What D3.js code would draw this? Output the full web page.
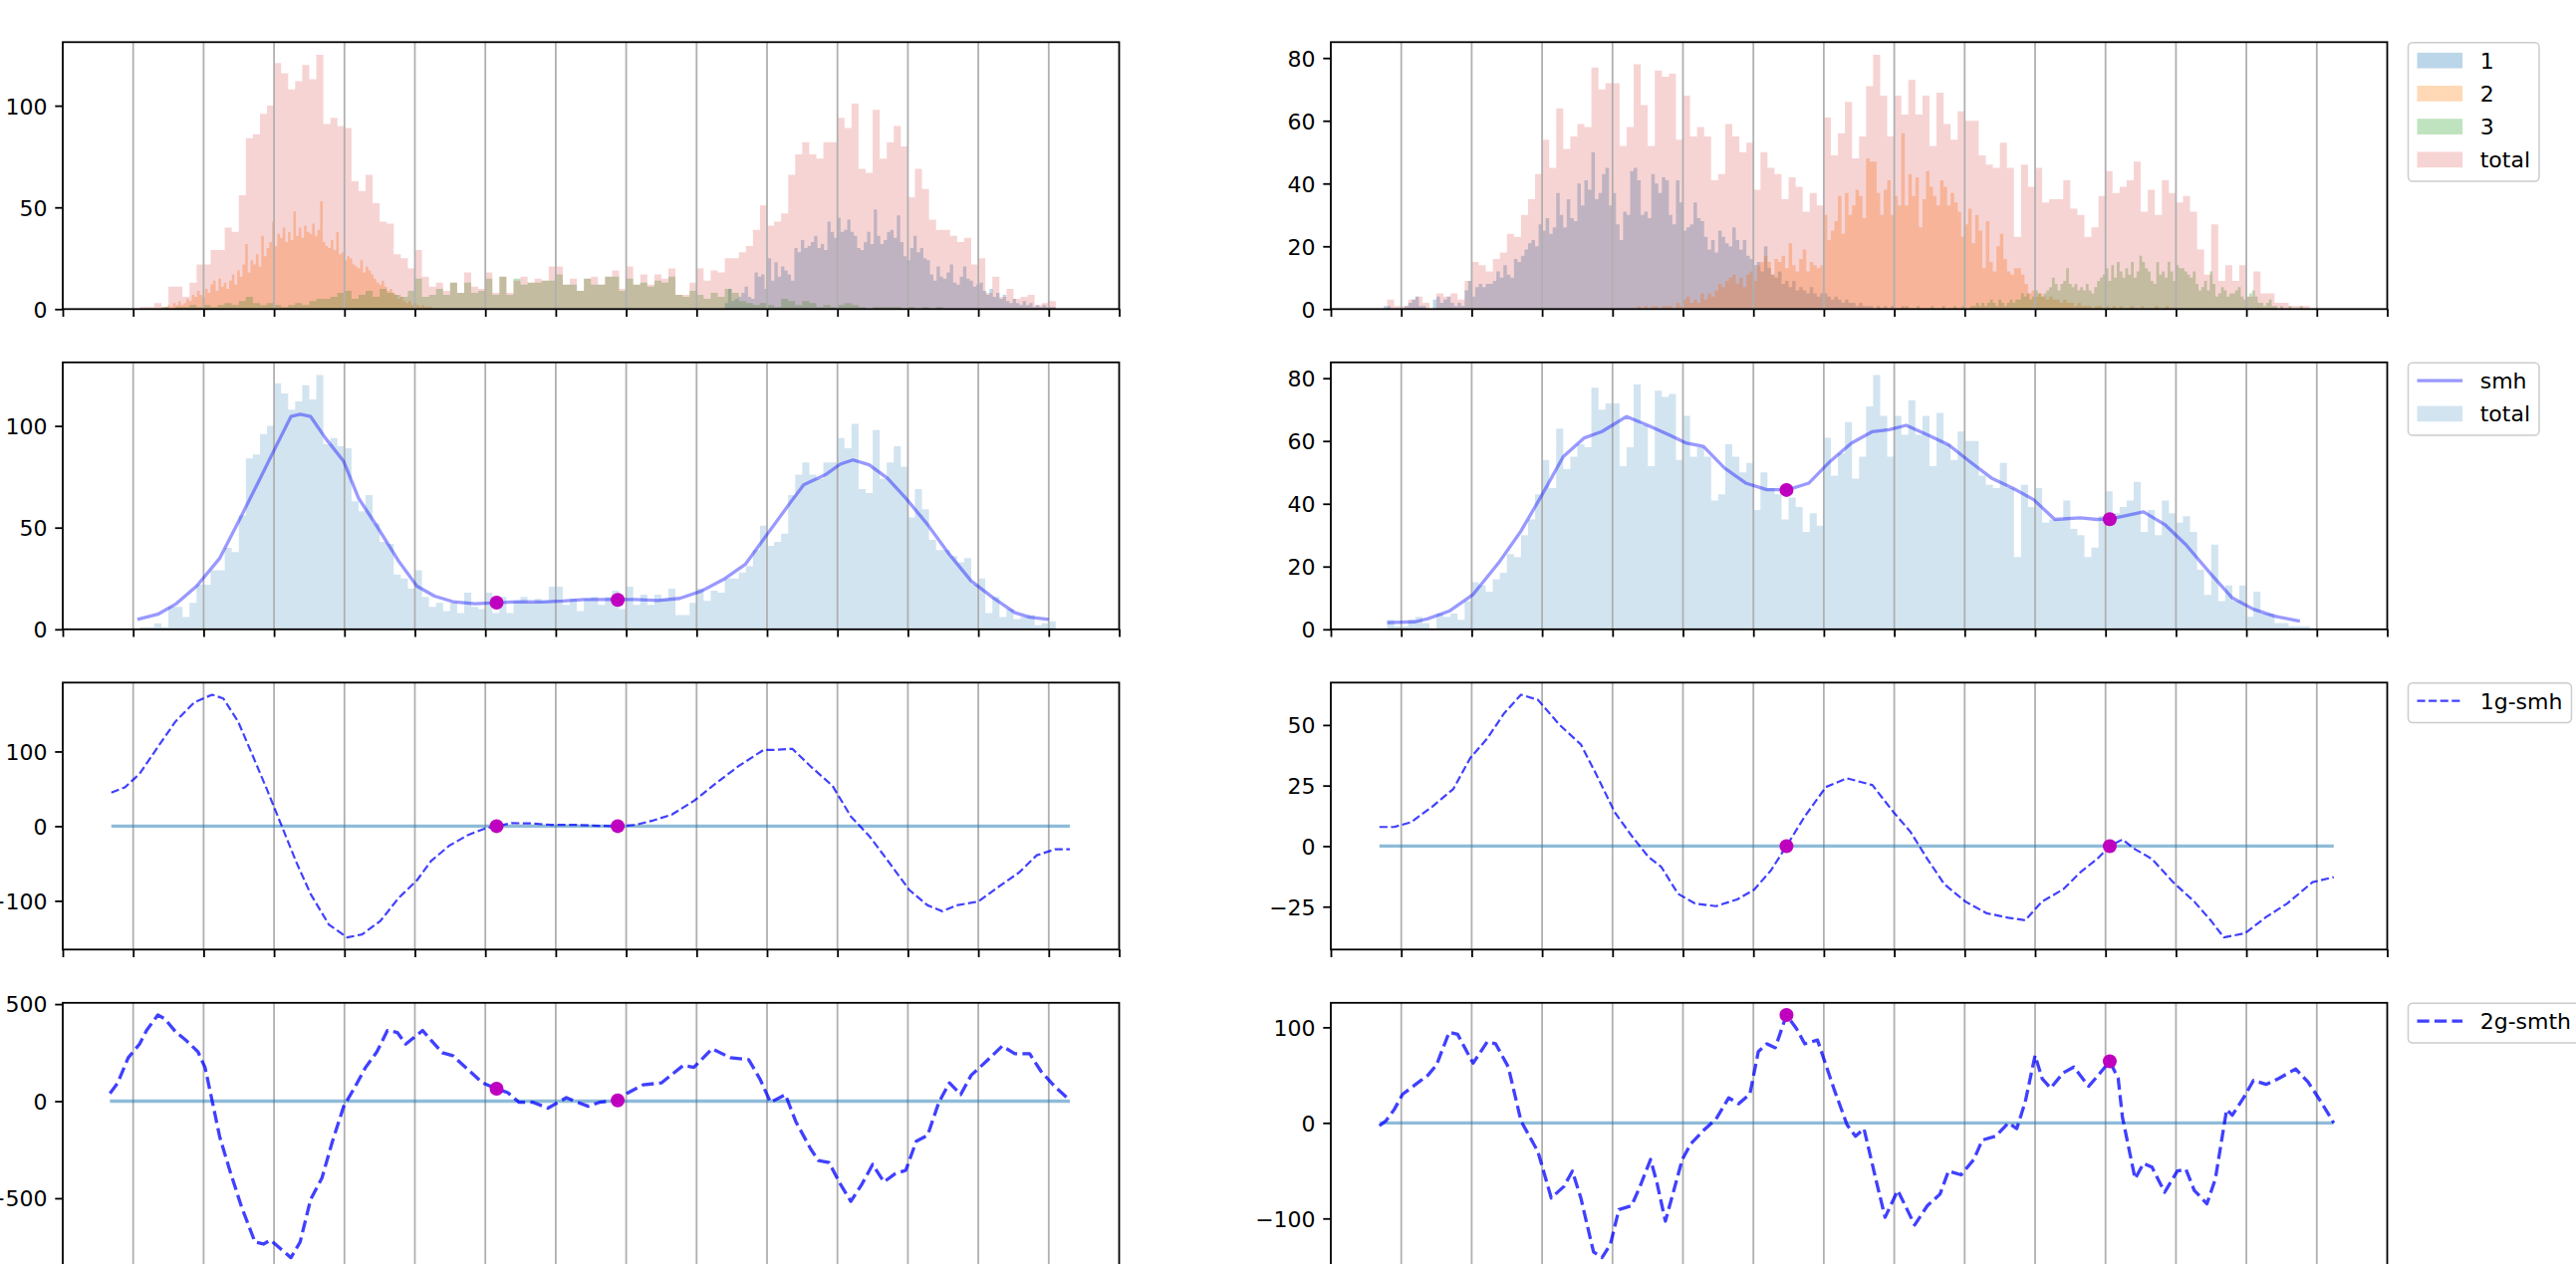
<!DOCTYPE html>
<html>
<head>
<meta charset="utf-8">
<script src="https://cdn.jsdelivr.net/npm/d3@7"></script>
<style>
html, body { margin: 0; padding: 0; background: #fff; overflow: hidden; }
svg { display: block; }
</style>
</head>
<body>
<svg id="fig" width="2586" height="1269"></svg>
<script>
// ---- data (x in grid units, 15 intervals per panel) ----

// left column histograms
const totalLeftStart = 1.1, totalLeftBin = 0.1;
const totalLeft = [1,1,3,1,11,11,6,13,22,22,29,29,40,38,56,84,86,96,100,121,116,108,112,120,113,125,91,94,90,89,
  63,58,66,52,43,42,27,25,20,29,16,11,13,9,13,8,18,11,10,18,8,16,8,14,16,13,15,14,21,21,
  12,15,9,15,16,12,16,19,10,21,12,17,12,17,15,20,7,7,13,20,14,19,18,25,25,28,31,39,51,41,
  43,47,66,76,82,76,74,82,82,94,89,101,69,67,98,74,82,90,80,55,69,59,44,39,39,36,33,35,22,25,
  8,16,6,10,5,6,7,2,3,4];
const s1LeftStart = 9.4, s1LeftBin = 0.047;
const s1Left = [3,10,4,5,6,8,11,6,5, 18,16,17,10, 25,14,23,16,21,19,17,14, 30,28,34,30,31,33,
  36,30,32,29,43,38,35, 45,38,39,44,38,36,30, 29,33,38,32,49,36, 32,34,38,39,35,46,33,
  26,24,30,36,28,30,25, 24,17,14,21,16,15,18,22, 13,12,16,21,15,14,11,12, 13,9,7,10,6,8,5,7,
  4,3,5,3,2,4,2,3,1,2,1,2,1,1,1];
const s2LeftStart = 1.45, s2LeftBin = 0.038;
const s2Left = [1,2,1,3,2,4,2,3, 5,4,7,6,9,7,6,10, 8,12,14,9,15,11,13,10, 14,17,12,19,16,22,32,18,
  24,22,27,21,36,26,30,33, 43,31,37,35,40,33,38,34, 48,36,40,35,41,38,37,42, 36,39,53,33,31,30,34,29,
  38,27,28,24,26,25,22,21, 20,24,18,21,19,17,15,13, 12,14,11,9,10,8,7,5, 6,4,3,4,2,3,2,1, 2,1,1,1];
const s3LeftStart = 1.3, s3LeftBin = 0.1;
const s3Left = [0,1,0,1,1,2,1, 2,1,2,3,2, 4,6, 3,2,3, 2,1,2,3, 2,4,5, 5,6,8, 9,5,7, 9,6,10, 8,7,6, 9,
  15,6,7,10,7,13,8,13,8,9, 15,7,16,7,15,12,13,13,14,14, 17,12,12,9,15,12,12,16,16,9,
  15,12,13,11,14,13,16,7,6,9, 7,5,8,6,10,8,4,3,2,3, 2,1,5,4,2,4,3,1,2,1, 2,3,2,1,0,1,1,1,1,0,
  1,0,1,0,1,0];

// right column histograms
const totalRightStart = 0.8, totalRightBin = 0.1;
const totalRight = [3,1,1,3,4,2,0,5,4,5,3,9,15,14,12,16,18,24,23,30,35,43,54,45,64,51,55,59,58,77,
  70,72,72,52,58,78,65,52,76,74,75,54,68,55,58,55,41,43,59,55,50,53,38,50,45,43,35,42,39,31,
  37,33,61,49,56,66,48,55,71,81,68,55,68,62,73,62,68,52,69,59,54,63,60,60,49,46,45,53,45,23,
  46,39,45,34,35,35,41,32,30,23,26,36,44,37,39,41,47,31,38,30,41,37,34,36,31,19,11,27,9,14,
  9,14,4,12,5,5,2,2,1,1,1];
const s1RightStart = 0.75, s1RightBin = 0.05;
const s1Right = [1,1,0,0,0,0,1,2,3,4,1,1,0,0,3,4,2,3,4,2,1,2,1, 6,9,4,7,8,7,8,8,9,12,
  10,14,11,10,16,15,17,19,21, 22,20,27,25,29,24,26,37,30,26, 35,29,28,40,33,41,38,50,35,
  37,43,45,33,37,27,22,31,30,44, 45,41,30,31,29,43,40,37,42, 41,30,27,41,34,25,26,27,34,29,
  28,23,19,22,18,25,23,21,20, 26,22,19,22,17,16,14,15,12, 20,13,11,10,12,8,9,7,9,6,
  7,6,5,7,5,4,5,5,4, 3,4,3,2,3,2,2,1,2,1,1,1,0,1,0, 1,0,1,0,0,1];
const s2RightStart = 4.3, s2RightBin = 0.05;
const s2Right = [0,1,0,1,0,1,1,0,1,1, 1,0,2,1,3,4,2,3,2,5, 3,5,4,6,8,7,9,10,11,8,
  10,7,11,12,9,14,15,17,15,11, 16,15,17,13,21,14,12,16,19,12, 15,14,13,14,30,22,25,28,36,24,
  37,30,33,38,36,29,48,47, 47,37,30,38,41,30,36,33,56,33,43,36,
  42,26,35,44,39,36,33,41,39,33, 37,34,31,23,27,32,21,30,25,13, 28,15,12,20,24,16,12,11,13,13,
  11,8,5,6,4,5,4,3,4,3, 3,2,3,2,2,1,2,1,1,1, 0,1,1,0,1,0,1,0,1,0, 0,1,0,0,1,0,0,0,1,0,0,1,0,0];
const s3RightStart = 8.0, s3RightBin = 0.04;
const s3Right = [0,0,0,0,1,0,0,0,1,0,0,0,0,1,0,0,0,1,0,0,0,1,0,0,1,0,0,1,
  1,2,1,2,1,2,3,2,1,3,2,1,2,3,2,3, 3,5,4,5,3,4,6,5,4,5,6,7,10,8,6,
  8,9,13,8,7,8,6,7,6,8,6,5,7,9,10, 11,13,9,14,10,15,12,10,13,11,15,10,12,17,15,13,
  12,9,8,15,11,12,10,15,12,9,14,13,13,12,11, 10,12,8,6,7,9,6,12,8,4,5,7,6,4,5,
  5,6,7,4,3,4,5,6,4,2,2,1,2,3,1, 1,0,1,0,0,1,0,0,0,1];

// smoothed totals
const smhLeftT = [1.06,1.35,1.6,1.9,2.23,2.54,2.8,3.0,3.24,3.37,3.52,3.73,3.99,4.2,4.46,4.77,5.03,5.28,5.54,5.85,
  6.17,6.48,6.79,7.1,7.41,7.88,8.13,8.45,8.76,9.07,9.38,9.69,10.0,10.31,10.52,10.83,11.04,11.22,11.45,11.71,
  11.97,12.28,12.59,12.9,13.21,13.52,13.73,14.0];
const smhLeftV = [4.9,7.4,12.3,21.2,35,56,74,88,104.6,105.7,104.6,94,82.5,64.5,50.7,33.5,21.2,16.3,13.6,12.6,
  13.1,13.6,13.4,13.9,14.7,14.7,14.7,14.2,15.2,18.8,24.5,31.9,46.6,61.3,71,76,81.2,83.3,80.9,74.3,
  64.5,51.5,36.8,23.7,15.5,8.2,6,4.9];
const smhRightT = [0.8,1.2,1.38,1.68,2.02,2.4,2.7,3.0,3.3,3.6,3.85,4.2,4.5,4.8,5.05,5.29,5.59,5.89,6.19,6.49,
  6.79,7.09,7.39,7.69,7.93,8.17,8.47,8.77,9.07,9.38,9.68,9.98,10.28,10.64,10.88,11.08,11.54,11.84,12.14,12.5,
  12.8,13.1,13.4,13.76];
const smhRightV = [2.1,2.4,3.4,5.8,11.1,21.7,31.3,42.9,55,61,63,67.8,65,62,59.3,58.3,51.4,46.6,44.5,44.5,
  46.6,53.5,59.3,63,63.6,65,62,58.8,53.5,48.2,45,41.3,35,35.5,35,35.2,37.4,33.4,27,17.5,
  10,6.4,4.2,2.6];

// first derivative of the smoothed totals
const g1LeftT = [0.69,0.88,1.09,1.35,1.6,1.87,2.12,2.28,2.49,2.69,2.9,3.11,3.32,3.52,3.78,4.04,4.25,4.51,4.77,5.03,
  5.23,5.49,5.75,6.01,6.17,6.37,6.68,6.94,7.3,7.62,7.88,8.13,8.39,8.65,8.96,9.27,9.59,9.95,10.1,10.36,
  10.62,10.93,11.19,11.45,11.76,12.02,12.28,12.49,12.69,13.0,13.26,13.58,13.83,14.09,14.3];
const g1LeftV = [45,51.8,70,106,140,166,176,171,140,96,49,0,-49,-91,-132,-149,-145,-127,-96,-72.5,
  -46.6,-26,-12,-2.6,0,4.1,3.6,1.6,1.6,0.5,0,1.6,7.8,15.5,33.7,57,80,102,102,103.6,
  80,54,13,-13,-52,-85.5,-106,-114,-106,-101,-83,-62,-39,-31,-31];
const g1RightT = [0.69,0.9,1.14,1.44,1.74,1.98,2.22,2.46,2.7,2.94,3.25,3.55,3.79,4.03,4.27,4.51,4.69,4.93,5.17,5.47,
  5.77,6.01,6.25,6.47,6.73,7.03,7.33,7.69,7.99,8.23,8.47,8.71,9.01,9.31,9.62,9.86,10.1,10.4,10.64,10.88,
  11.06,11.24,11.42,11.66,11.96,12.26,12.5,12.68,12.98,13.28,13.58,13.94,14.24];
const g1RightV = [7.9,7.9,9.9,16.3,23.6,36.4,44.4,54.8,62.5,60.4,50,42,28.4,14,4.3,-4.5,-8.5,-19.7,-23.7,-24.8,
  -22,-18,-10,0,12.3,24.4,28,25.2,14,5.9,-5.3,-15.7,-22.9,-27.7,-29.6,-30.6,-22.9,-17.8,-10.9,-5.3,
  0,2.7,-1.3,-5.3,-14.9,-22.9,-30.9,-37.7,-36,-29.3,-23.7,-14.9,-12.8];

// second derivative
const g2LeftT = [0.67,0.78,0.93,1.09,1.19,1.35,1.45,1.6,1.76,1.92,2.02,2.12,2.23,2.38,2.54,2.73,2.85,2.95,3.11,3.24,
  3.37,3.52,3.68,3.83,3.99,4.15,4.3,4.46,4.61,4.75,4.87,5.11,5.23,5.39,5.54,5.75,5.96,6.16,6.32,6.48,
  6.68,6.89,7.15,7.31,7.46,7.62,7.88,8.03,8.24,8.5,8.81,8.96,9.22,9.48,9.74,9.9,10.05,10.26,10.41,10.62,
  10.73,10.88,11.04,11.19,11.35,11.5,11.66,11.81,11.97,12.12,12.28,12.44,12.59,12.75,12.9,13.11,13.34,13.52,13.73,13.89,
  14.09,14.3];
const g2LeftV = [40,94,224,294,364,444,424,358,310,254,174,4,-186,-366,-546,-726,-736,-716,-766,-806,
  -726,-506,-396,-206,-26,74,174,254,364,354,294,364,314,250,234,164,94,64,44,-6,
  -6,-36,18,-6,-26,-6,4,44,84,94,184,174,270,224,214,114,-6,34,-106,-246,
  -306,-316,-426,-516,-426,-326,-416,-376,-356,-206,-176,-6,94,34,134,204,284,244,244,154,
  74,4];
const g2RightT = [0.69,0.78,0.9,1.02,1.2,1.38,1.5,1.68,1.8,2.02, 2.22,2.34,2.52,2.7,2.94,3.13,3.31,3.43,3.55,3.73,
  3.85,3.97,4.09,4.27,4.39,4.54,4.63,4.75,4.87,4.99, 5.11,5.29,5.47,5.65,5.79,5.95,6.07,6.19,6.31,6.47,
  6.61,6.73,6.91,7.15,7.33,7.45,7.57,7.75,7.87,8.05, 8.29,8.47,8.65,8.77,8.95,9.13,9.25,9.44,9.62,9.74,
  9.86,10.0,10.1,10.22,10.4,10.55,10.76,10.88,11.06,11.18, 11.24,11.42,11.54,11.66,11.84,12.02,12.14,12.26,12.44,12.56,
  12.72,12.8,12.96,13.1,13.28,13.46,13.7,13.88,14.06,14.24];
const g2RightV = [-3,2,14,30,40,50,60.5,94.8,92.7,62.5, 84.7,82.7,58.5,2,-30,-78.6,-66.5,-50.4,-78.6,-135,
  -141,-127,-90.7,-86.7,-66.5,-38.3,-62.5,-102.8,-70.6,-38.3, -22,-8,4,26.2,20,30,74.6,82.7,78.6,112.9,
  98.8,82.7,86.7,34.3,-2,-14,-6,-62.5,-98.8,-70.6, -106.9,-86.7,-74.6,-50.4,-54.4,-38.3,-18,-14,0,-6,
  22,70.6,46.4,36.3,52.4,58.5,38.3,48.4,64.5,46.4, 6,-58.5,-42.3,-46.4,-72.6,-50.4,-48.4,-70.6,-84.7,-58.5,
  14,8,26.2,44.4,40.3,46.4,56.5,42.3,22,0];

// found minima of the smoothed totals
const minLeftT = [6.16, 7.88];
const minRightT = [6.47, 11.06];
const smhLeftMarks = [13.1, 14.5], smhRightMarks = [44.4, 35.1];
const g1Marks = [0, 0];
const g2LeftMarks = [64, 4], g2RightMarks = [112.9, 64.5];

// tick values
const xTicks = d3.range(0, 16);
const yTicksHistLeft = [0, 50, 100], yTicksHistRight = [0, 20, 40, 60, 80];
const yTicksG1Left = [-100, 0, 100], yTicksG1Right = [-25, 0, 25, 50];
const yTicksG2Left = [-500, 0, 500], yTicksG2Right = [-100, 0, 100];

// ---- layout ----
const colX = [63, 1336];
const axW = 1060.5, axH = 268;
const rowTop = r => 42.3 + 321.5 * r;
const FONT = "DejaVu Sans";
const C = { blue: "#1f77b4", orange: "#ff7f0e", green: "#2ca02c", red: "#d62728", b: "#0000ff", m: "#bf00bf" };
const smhStyle = { color: C.b, opacity: 0.4, width: 3.3, dash: null };
const g1Style = { color: C.b, opacity: 0.75, width: 2.2, dash: "8.1,3.5" };
const g2Style = { color: C.b, opacity: 0.75, width: 3.3, dash: "12.2,5.3" };

const svg = d3.select("#fig");

function panel(col, row, yDomain, yTickVals) {
  const x0 = colX[col], y0 = rowTop(row);
  const x = d3.scaleLinear().domain([0, 15]).range([x0, x0 + axW]);
  const y = d3.scaleLinear().domain(yDomain).range([y0 + axH, y0]);
  const g = svg.append("g");
  const bars = g.append("g"), grid = g.append("g"), lines = g.append("g"), frame = g.append("g");

  grid.selectAll("line").data(xTicks.slice(1, -1)).join("line")
    .attr("x1", d => x(d)).attr("x2", d => x(d))
    .attr("y1", y0).attr("y2", y0 + axH)
    .attr("stroke", "#b0b0b0").attr("stroke-width", 1.8);

  frame.append("g").attr("transform", `translate(0,${y0 + axH})`)
    .call(d3.axisBottom(x).tickValues(xTicks).tickSize(7.7).tickFormat(""));
  frame.append("g").attr("transform", `translate(${x0},0)`)
    .call(d3.axisLeft(y).tickValues(yTickVals).tickSize(7.7).tickPadding(7.7));
  frame.selectAll(".domain").remove();
  frame.selectAll(".tick line").attr("stroke", "#000").attr("stroke-width", 1.8);
  frame.selectAll(".tick text")
    .attr("font-size", 22).attr("font-family", FONT).attr("fill", "#000").attr("dy", "0.36em");

  frame.append("rect").attr("x", x0).attr("y", y0).attr("width", axW).attr("height", axH)
    .attr("fill", "none").attr("stroke", "#000").attr("stroke-width", 1.8);
  return { x, y, bars, lines };
}

function hist(p, start, bin, counts, color, alpha) {
  const pts = counts.map((c, i) => [start + i * bin, c]);
  pts.push([start + counts.length * bin, 0]);
  const area = d3.area().curve(d3.curveStepAfter)
    .x(d => p.x(d[0])).y0(p.y(0)).y1(d => p.y(d[1]));
  p.bars.append("path").attr("d", area(pts)).attr("fill", color).attr("fill-opacity", alpha);
}

function line(p, ts, vs, st) {
  const l = d3.line().x(d => p.x(d[0])).y(d => p.y(d[1]));
  const path = p.lines.append("path").attr("d", l(d3.zip(ts, vs)))
    .attr("fill", "none").attr("stroke", st.color).attr("stroke-opacity", st.opacity)
    .attr("stroke-width", st.width).attr("stroke-linejoin", "round");
  if (st.dash) path.attr("stroke-dasharray", st.dash);
}

function zeroLine(p, ts) {
  p.lines.append("line")
    .attr("x1", p.x(ts[0])).attr("x2", p.x(ts[ts.length - 1]))
    .attr("y1", p.y(0)).attr("y2", p.y(0))
    .attr("stroke", C.blue).attr("stroke-opacity", 0.5).attr("stroke-width", 3.3);
}

function marks(p, ts, vs) {
  p.lines.selectAll(null).data(d3.zip(ts, vs)).join("circle")
    .attr("cx", d => p.x(d[0])).attr("cy", d => p.y(d[1])).attr("r", 7)
    .attr("fill", C.m);
}

function legend(row, items) {
  const pad = 9, hl = 45.6, gap = 17.6, rowH = 33.2;
  const lx = colX[1] + axW + 21, ly = rowTop(row) + 0.4;
  const g = svg.append("g");
  const box = g.append("rect");
  let maxW = 0;
  items.forEach((it, i) => {
    const cy = ly + 18 + i * rowH;
    if (it.type === "patch") {
      g.append("rect").attr("x", lx + pad).attr("y", cy - 7.85).attr("width", hl).attr("height", 15.7)
        .attr("fill", it.color).attr("fill-opacity", it.alpha);
    } else {
      const h = g.append("line").attr("x1", lx + pad).attr("x2", lx + pad + hl).attr("y1", cy).attr("y2", cy)
        .attr("stroke", it.style.color).attr("stroke-opacity", it.style.opacity)
        .attr("stroke-width", it.style.width);
      if (it.style.dash) h.attr("stroke-dasharray", it.style.dash);
    }
    const t = g.append("text").attr("x", lx + pad + hl + gap).attr("y", cy).attr("dy", "0.36em")
      .attr("font-size", 22).attr("font-family", FONT).attr("fill", "#000").text(it.label);
    maxW = Math.max(maxW, t.node().getComputedTextLength());
  });
  box.attr("x", lx).attr("y", ly)
    .attr("width", pad + hl + gap + maxW + pad)
    .attr("height", 18 + (items.length - 1) * rowH + 21.7)
    .attr("rx", 4.4).attr("fill", "#fff").attr("fill-opacity", 0.8)
    .attr("stroke", "#cccccc").attr("stroke-width", 1.5);
}

function padDomain(arrs) {
  const lo = d3.min(arrs, a => d3.min(a)), hi = d3.max(arrs, a => d3.max(a));
  const m = (hi - lo) * 0.05;
  return [lo - m, hi + m];
}

// ---- row 1: per-group histograms ----
const p1L = panel(0, 0, [0, 1.05 * d3.max([...totalLeft, ...s1Left, ...s2Left, ...s3Left])], yTicksHistLeft);
hist(p1L, s1LeftStart, s1LeftBin, s1Left, C.blue, 0.3);
hist(p1L, s2LeftStart, s2LeftBin, s2Left, C.orange, 0.3);
hist(p1L, s3LeftStart, s3LeftBin, s3Left, C.green, 0.3);
hist(p1L, totalLeftStart, totalLeftBin, totalLeft, C.red, 0.2);

const p1R = panel(1, 0, [0, 1.05 * d3.max([...totalRight, ...s1Right, ...s2Right, ...s3Right])], yTicksHistRight);
hist(p1R, s1RightStart, s1RightBin, s1Right, C.blue, 0.3);
hist(p1R, s2RightStart, s2RightBin, s2Right, C.orange, 0.3);
hist(p1R, s3RightStart, s3RightBin, s3Right, C.green, 0.3);
hist(p1R, totalRightStart, totalRightBin, totalRight, C.red, 0.2);
legend(0, [
  { type: "patch", color: C.blue, alpha: 0.3, label: "1" },
  { type: "patch", color: C.orange, alpha: 0.3, label: "2" },
  { type: "patch", color: C.green, alpha: 0.3, label: "3" },
  { type: "patch", color: C.red, alpha: 0.2, label: "total" }
]);

// ---- row 2: smoothed total ----
const p2L = panel(0, 1, [0, 1.05 * d3.max([...totalLeft, ...smhLeftV])], yTicksHistLeft);
hist(p2L, totalLeftStart, totalLeftBin, totalLeft, C.blue, 0.2);
line(p2L, smhLeftT, smhLeftV, smhStyle);
marks(p2L, minLeftT, smhLeftMarks);

const p2R = panel(1, 1, [0, 1.05 * d3.max([...totalRight, ...smhRightV])], yTicksHistRight);
hist(p2R, totalRightStart, totalRightBin, totalRight, C.blue, 0.2);
line(p2R, smhRightT, smhRightV, smhStyle);
marks(p2R, minRightT, smhRightMarks);
legend(1, [
  { type: "line", style: smhStyle, label: "smh" },
  { type: "patch", color: C.blue, alpha: 0.2, label: "total" }
]);

// ---- row 3: first derivative ----
const p3L = panel(0, 2, padDomain([g1LeftV, [0]]), yTicksG1Left);
zeroLine(p3L, g1LeftT);
line(p3L, g1LeftT, g1LeftV, g1Style);
marks(p3L, minLeftT, g1Marks);

const p3R = panel(1, 2, padDomain([g1RightV, [0]]), yTicksG1Right);
zeroLine(p3R, g1RightT);
line(p3R, g1RightT, g1RightV, g1Style);
marks(p3R, minRightT, g1Marks);
legend(2, [{ type: "line", style: g1Style, label: "1g-smh" }]);

// ---- row 4: second derivative ----
const p4L = panel(0, 3, padDomain([g2LeftV, [0]]), yTicksG2Left);
zeroLine(p4L, g2LeftT);
line(p4L, g2LeftT, g2LeftV, g2Style);
marks(p4L, minLeftT, g2LeftMarks);

const p4R = panel(1, 3, padDomain([g2RightV, [0]]), yTicksG2Right);
zeroLine(p4R, g2RightT);
line(p4R, g2RightT, g2RightV, g2Style);
marks(p4R, minRightT, g2RightMarks);
legend(3, [{ type: "line", style: g2Style, label: "2g-smth" }]);
</script>
</body>
</html>
